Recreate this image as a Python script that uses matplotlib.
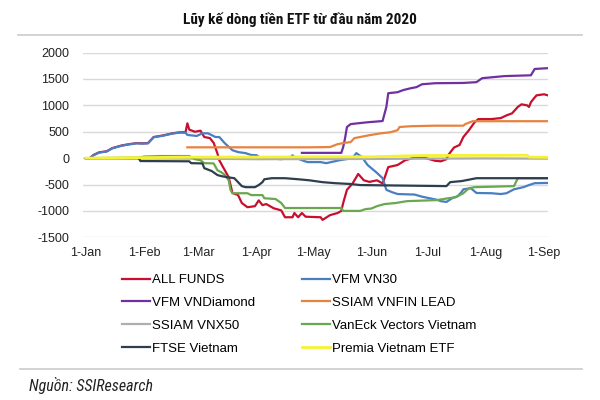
import matplotlib
matplotlib.use('Agg')
import matplotlib.pyplot as plt
import matplotlib.dates as mdates
import pandas as pd

plt.rcParams['font.family'] = ['Liberation Sans', 'DejaVu Sans']
plt.rcParams['axes.unicode_minus'] = False

# data (MM-DD, cumulative flow)
all_funds_d = ['01-01', '01-03', '01-05', '01-08', '01-12', '01-15', '01-20', '01-24', '01-28', '01-31',
               '02-03', '02-05', '02-06', '02-11', '02-16', '02-20', '02-23', '02-24', '02-25', '02-28',
               '03-02', '03-04', '03-07', '03-09', '03-11', '03-12', '03-14', '03-17', '03-19', '03-22',
               '03-24', '03-27', '03-31', '04-02', '04-04', '04-06', '04-10', '04-14', '04-16', '04-20',
               '04-21', '04-23', '04-25', '04-27', '05-05', '05-06', '05-10', '05-14', '05-16', '05-17',
               '05-19', '05-22', '05-25', '05-28', '05-31', '06-04', '06-07', '06-08', '06-10', '06-15',
               '06-19', '06-25', '06-30', '07-05', '07-08', '07-11', '07-12', '07-15', '07-18', '07-20',
               '07-23', '07-26', '07-28', '08-04', '08-09', '08-12', '08-15', '08-18', '08-20', '08-23',
               '08-24', '08-25', '08-27', '08-28', '09-01', '09-03']
all_funds_v = [0, 0, 60, 110, 130, 190, 240, 265, 285, 280,
               285, 360, 400, 430, 470, 490, 490, 660, 540, 500,
               520, 400, 380, 290, 90, -40, -170, -360, -660, -700,
               -850, -930, -910, -800, -890, -870, -950, -990, -1120, -1120,
               -1040, -1120, -1040, -1110, -1120, -1170, -1080, -1040, -1000, -850,
               -600, -480, -300, -420, -450, -420, -480, -380, -170, -130,
               -40, 20, 0, -50, -60, -20, 60, 200, 250, 400,
               530, 680, 740, 740, 760, 810, 850, 970, 1020, 1000,
               970, 1060, 1150, 1190, 1210, 1190]

vn30_d = ['01-01', '01-03', '01-05', '01-08', '01-12', '01-15', '01-20', '01-24', '01-28', '01-31',
          '02-03', '02-05', '02-06', '02-11', '02-16', '02-20', '02-23', '02-24', '02-29', '03-03',
          '03-06', '03-10', '03-12', '03-15', '03-19', '03-22', '03-26', '03-29', '04-01', '04-02',
          '04-07', '04-14', '04-19', '04-20', '04-21', '04-25', '04-28', '05-05', '05-08', '05-15',
          '05-22', '05-24', '05-27', '05-30', '06-04', '06-07', '06-09', '06-12', '06-15', '06-24',
          '06-28', '07-02', '07-06', '07-08', '07-11', '07-14', '07-17', '07-19', '07-20', '07-24',
          '07-27', '08-04', '08-09', '08-12', '08-16', '08-21', '08-24', '08-27', '09-03']
vn30_v = [0, 0, 55, 105, 125, 185, 235, 260, 280, 275,
          280, 355, 395, 425, 465, 485, 480, 440, 420, 470,
          470, 400, 400, 280, 150, 115, 95, 60, 55, 20,
          0, -20, 20, 55, 20, -40, -75, -75, -95, -40,
          0, 95, 20, -130, -280, -380, -600, -645, -680, -690,
          -730, -760, -790, -815, -830, -760, -720, -645, -590, -570,
          -660, -665, -680, -665, -590, -550, -510, -475, -470]

diamond_d = ['04-25', '05-16', '05-17', '05-18', '05-19', '05-21', '05-26', '05-30', '06-06', '06-07',
             '06-09', '06-10', '06-15', '06-18', '06-22', '06-25', '06-28', '07-05', '07-20', '07-27',
             '07-30', '08-05', '08-11', '08-25', '08-27', '09-03']
diamond_v = [100, 100, 210, 380, 590, 645, 665, 680, 700, 705,
             970, 1230, 1250, 1290, 1325, 1345, 1400, 1420, 1425, 1440,
             1515, 1535, 1555, 1570, 1690, 1705]

vnfin_d = ['02-24', '04-28', '05-10', '05-14', '05-17', '05-21', '05-23', '05-26', '05-31', '06-06',
           '06-11', '06-15', '06-16', '06-22', '07-05', '07-20', '07-21', '07-25', '09-03']
vnfin_v = [205, 205, 210, 265, 285, 305, 380, 400, 435, 470,
           490, 530, 590, 605, 615, 615, 645, 700, 700]

vnx50_d = ['01-01', '03-01', '04-01', '06-01', '07-01', '08-01', '09-03']
vnx50_v = [0, -10, -20, -15, -10, -5, -10]

vaneck_d = ['01-01', '01-29', '02-01', '02-10', '02-25', '02-28', '03-02', '03-04', '03-09', '03-11',
            '03-13', '03-15', '03-17', '03-18', '03-19', '03-27', '03-29', '04-04', '04-05', '04-11',
            '04-14', '04-16', '05-16', '05-17', '05-26', '05-29', '06-01', '06-04', '06-08', '06-14',
            '06-20', '07-06', '07-12', '07-16', '07-20', '07-23', '07-26', '08-16', '08-18', '09-03']
vaneck_v = [0, 10, 30, 40, 40, -20, -40, -95, -100, -230,
            -265, -320, -420, -605, -665, -665, -700, -700, -760, -775,
            -850, -945, -945, -1000, -1000, -965, -955, -910, -870, -850,
            -815, -795, -760, -740, -665, -570, -550, -530, -380, -380]

ftse_d = ['01-01', '01-29', '01-30', '02-25', '02-26', '03-03', '03-04', '03-08', '03-11', '03-13',
          '03-16', '03-20', '03-22', '03-24', '03-26', '03-31', '04-02', '04-04', '04-05', '04-09',
          '04-16', '04-23', '04-29', '05-06', '05-13', '05-21', '05-26', '07-11', '07-13', '07-19',
          '07-22', '07-27', '09-03']
ftse_v = [0, 0, -55, -60, -95, -100, -190, -245, -320, -340,
          -360, -380, -455, -530, -550, -550, -510, -455, -400, -380,
          -380, -400, -420, -455, -475, -490, -510, -530, -455, -435,
          -415, -380, -380]

premia_d = ['01-01', '02-01', '03-01', '04-01', '05-01', '06-01', '06-16', '07-01', '08-23', '08-24', '09-03']
premia_v = [0, 10, 20, 20, 25, 25, 40, 50, 55, 20, 15]

names = ['ALL FUNDS', 'VFM VN30', 'VFM VNDiamond', 'SSIAM VNFIN LEAD',
         'SSIAM VNX50', 'VanEck Vectors Vietnam', 'FTSE Vietnam', 'Premia Vietnam ETF']
dates = [all_funds_d, vn30_d, diamond_d, vnfin_d, vnx50_d, vaneck_d, ftse_d, premia_d]
values = [all_funds_v, vn30_v, diamond_v, vnfin_v, vnx50_v, vaneck_v, ftse_v, premia_v]
colors = ['#C8102E', '#4A7EC2', '#7030A0', '#E8823F', '#AEAEAE', '#6AA84F', '#2F3E4E', '#F5F233']

month_ticks = ['01-01', '02-01', '03-01', '04-01', '05-01', '06-01', '07-01', '08-01', '09-01']
month_labels = ['1-Jan', '1-Feb', '1-Mar', '1-Apr', '1-May', '1-Jun', '1-Jul', '1-Aug', '1-Sep']
y_ticks = [-1500, -1000, -500, 0, 500, 1000, 1500, 2000]

cond = ['Roboto Condensed', 'DejaVu Sans']

fig = plt.figure(figsize=(6, 4), dpi=100)
ax = fig.add_axes([83 / 600, 1 - 237.3 / 400, 465 / 600, 184.7 / 400])

handles = []
for n, d, v, c in zip(names, dates, values, colors):
    x = pd.to_datetime(['2020-' + s for s in d])
    lw = 2.0 if n == 'Premia Vietnam ETF' else 1.6
    h, = ax.plot(x, v, color=c, lw=lw, label=n)
    handles.append(h)

start = mdates.date2num(pd.Timestamp('2020-01-01'))
ax.set_xlim(start - 1.6, start + 246.1)
ax.set_ylim(-1500, 2000)
ax.set_xticks(pd.to_datetime(['2020-' + s for s in month_ticks]))
ax.set_xticklabels(month_labels)
ax.set_yticks(y_ticks)
ax.tick_params(length=0, labelsize=9, colors='#222222')
ax.tick_params(axis='x', pad=7)
ax.tick_params(axis='y', pad=10)
ax.grid(axis='y', color='#D9D9D9', lw=1)
ax.set_axisbelow(True)
for s in ax.spines.values():
    s.set_visible(False)

# legend fills by row in the picture
order = handles[0::2] + handles[1::2]
fig.legend(order, [h.get_label() for h in order], ncol=2, loc='upper left',
           bbox_to_anchor=(122 / 600, 1 - 274 / 400), frameon=False, fontsize=9.5,
           handlelength=2.1, handletextpad=0.15, columnspacing=3.6, labelspacing=0.8,
           borderpad=0, borderaxespad=0)

fig.text(0.5, 1 - 20 / 400, 'Lũy kế dòng tiền ETF từ đầu năm 2020', ha='center', va='center',
         fontsize=11, fontweight='bold', family=cond, color='#111111')
fig.add_artist(plt.Line2D([18 / 600, 582 / 600], [1 - 35 / 400, 1 - 35 / 400], color='#CCCCCC', lw=1.2))
fig.add_artist(plt.Line2D([20 / 600, 582 / 600], [1 - 369 / 400, 1 - 369 / 400], color='#CCCCCC', lw=1.2))
fig.text(29 / 600, 1 - 385.5 / 400, 'Nguồn: SSIResearch', ha='left', va='center', fontsize=11.5,
         style='italic', family=cond, color='#222222')

fig.savefig('out.png', dpi=100, facecolor='white')
